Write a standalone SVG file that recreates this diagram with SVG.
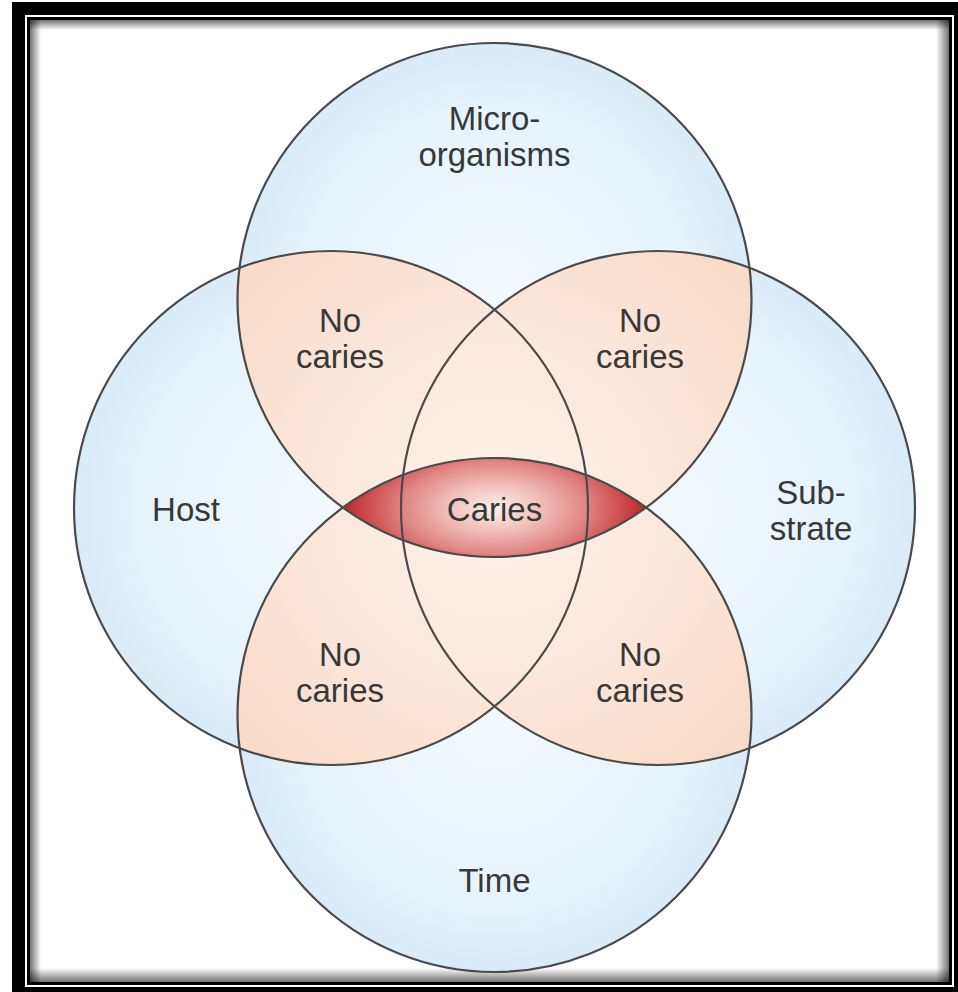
<svg xmlns="http://www.w3.org/2000/svg" width="958" height="992" viewBox="0 0 958 992">
<defs>
  <style>
    .lbl{font-family:"Liberation Sans",Arial,Helvetica,sans-serif;font-size:33px;fill:#383838;text-anchor:middle}
    .ring{fill:none;stroke:#4a4a4a;stroke-width:2.2}
    .blue{fill:url(#gBlue)}
    .peach{fill:url(#gPeach)}
  </style>
  <radialGradient id="gBlue" cx="0.5" cy="0.5" r="0.5">
    <stop offset="0" stop-color="#f3f9fd"/>
    <stop offset="0.75" stop-color="#e6f3fa"/>
    <stop offset="1" stop-color="#d8ebf7"/>
  </radialGradient>
  <radialGradient id="gPeach" gradientUnits="userSpaceOnUse" cx="494.5" cy="508" r="330">
    <stop offset="0" stop-color="#fdf2eb"/>
    <stop offset="0.6" stop-color="#fce6d9"/>
    <stop offset="1" stop-color="#f9dbc9"/>
  </radialGradient>
  <radialGradient id="gRed" gradientUnits="userSpaceOnUse" cx="494.5" cy="508" r="152" gradientTransform="translate(0 254) scale(1 0.5)">
    <stop offset="0" stop-color="#fcf0ee"/>
    <stop offset="0.3" stop-color="#f2c0ba"/>
    <stop offset="0.6" stop-color="#e08683"/>
    <stop offset="0.85" stop-color="#cc4a4b"/>
    <stop offset="1" stop-color="#b9252b"/>
  </radialGradient>
  <linearGradient id="shL" x1="0" y1="0" x2="1" y2="0">
    <stop offset="0" stop-color="#000" stop-opacity="0.55"/>
    <stop offset="1" stop-color="#000" stop-opacity="0"/>
  </linearGradient>
  <linearGradient id="shR" x1="1" y1="0" x2="0" y2="0">
    <stop offset="0" stop-color="#000" stop-opacity="0.55"/>
    <stop offset="1" stop-color="#000" stop-opacity="0"/>
  </linearGradient>
  <linearGradient id="shT" x1="0" y1="0" x2="0" y2="1">
    <stop offset="0" stop-color="#000" stop-opacity="0.55"/>
    <stop offset="1" stop-color="#000" stop-opacity="0"/>
  </linearGradient>
  <linearGradient id="shB" x1="0" y1="1" x2="0" y2="0">
    <stop offset="0" stop-color="#000" stop-opacity="0.55"/>
    <stop offset="1" stop-color="#000" stop-opacity="0"/>
  </linearGradient>
  <clipPath id="cT"><circle cx="494.5" cy="300" r="257"/></clipPath>
  <clipPath id="cB"><circle cx="494.5" cy="715" r="257"/></clipPath>
  <clipPath id="cL"><circle cx="331" cy="508" r="257"/></clipPath>
</defs>

<g id="frame">
  <rect x="0" y="0" width="958" height="992" fill="#ffffff"/>
  <rect x="12" y="2" width="946" height="990" fill="#000"/>
  <rect x="25" y="15" width="929" height="972" fill="#fff"/>
  <rect x="27" y="17" width="925" height="968" fill="#000"/>
  <rect x="30" y="20" width="919" height="962" fill="#fff"/>
  <rect x="30" y="20" width="11" height="962" fill="url(#shL)"/>
  <rect x="936" y="20" width="13" height="962" fill="url(#shR)"/>
  <rect x="30" y="20" width="919" height="10" fill="url(#shT)"/>
  <rect x="30" y="968" width="919" height="14" fill="url(#shB)"/>
</g>

<g id="region-fills">
  <circle class="blue" cx="494.5" cy="300" r="257"/>
  <circle class="blue" cx="494.5" cy="715" r="257"/>
  <circle class="blue" cx="331" cy="508" r="257"/>
  <circle class="blue" cx="658" cy="508" r="257"/>
  <g clip-path="url(#cT)">
    <circle class="peach" cx="331" cy="508" r="257"/>
    <circle class="peach" cx="658" cy="508" r="257"/>
  </g>
  <g clip-path="url(#cB)">
    <circle class="peach" cx="331" cy="508" r="257"/>
    <circle class="peach" cx="658" cy="508" r="257"/>
  </g>
  <g clip-path="url(#cL)">
    <circle class="peach" cx="658" cy="508" r="257"/>
  </g>
  <g clip-path="url(#cT)">
    <circle cx="494.5" cy="715" r="257" fill="url(#gRed)"/>
  </g>
</g>

<g id="node-microorganisms">
  <circle class="ring" cx="494.5" cy="300" r="257"/>
  <text class="lbl" x="494.5" y="130">Micro-</text>
  <text class="lbl" x="494.5" y="166">organisms</text>
</g>
<g id="node-time">
  <circle class="ring" cx="494.5" cy="715" r="257"/>
  <text class="lbl" x="494.5" y="892">Time</text>
</g>
<g id="node-host">
  <circle class="ring" cx="331" cy="508" r="257"/>
  <text class="lbl" x="186" y="521">Host</text>
</g>
<g id="node-substrate">
  <circle class="ring" cx="658" cy="508" r="257"/>
  <text class="lbl" x="811" y="504">Sub-</text>
  <text class="lbl" x="811" y="540">strate</text>
</g>

<g id="node-no-caries-tl">
  <text class="lbl" x="340" y="332">No</text>
  <text class="lbl" x="340" y="368">caries</text>
</g>
<g id="node-no-caries-tr">
  <text class="lbl" x="640" y="332">No</text>
  <text class="lbl" x="640" y="368">caries</text>
</g>
<g id="node-no-caries-bl">
  <text class="lbl" x="340" y="666">No</text>
  <text class="lbl" x="340" y="702">caries</text>
</g>
<g id="node-no-caries-br">
  <text class="lbl" x="640" y="666">No</text>
  <text class="lbl" x="640" y="702">caries</text>
</g>
<g id="node-caries">
  <text class="lbl" x="494.5" y="521">Caries</text>
</g>
</svg>
